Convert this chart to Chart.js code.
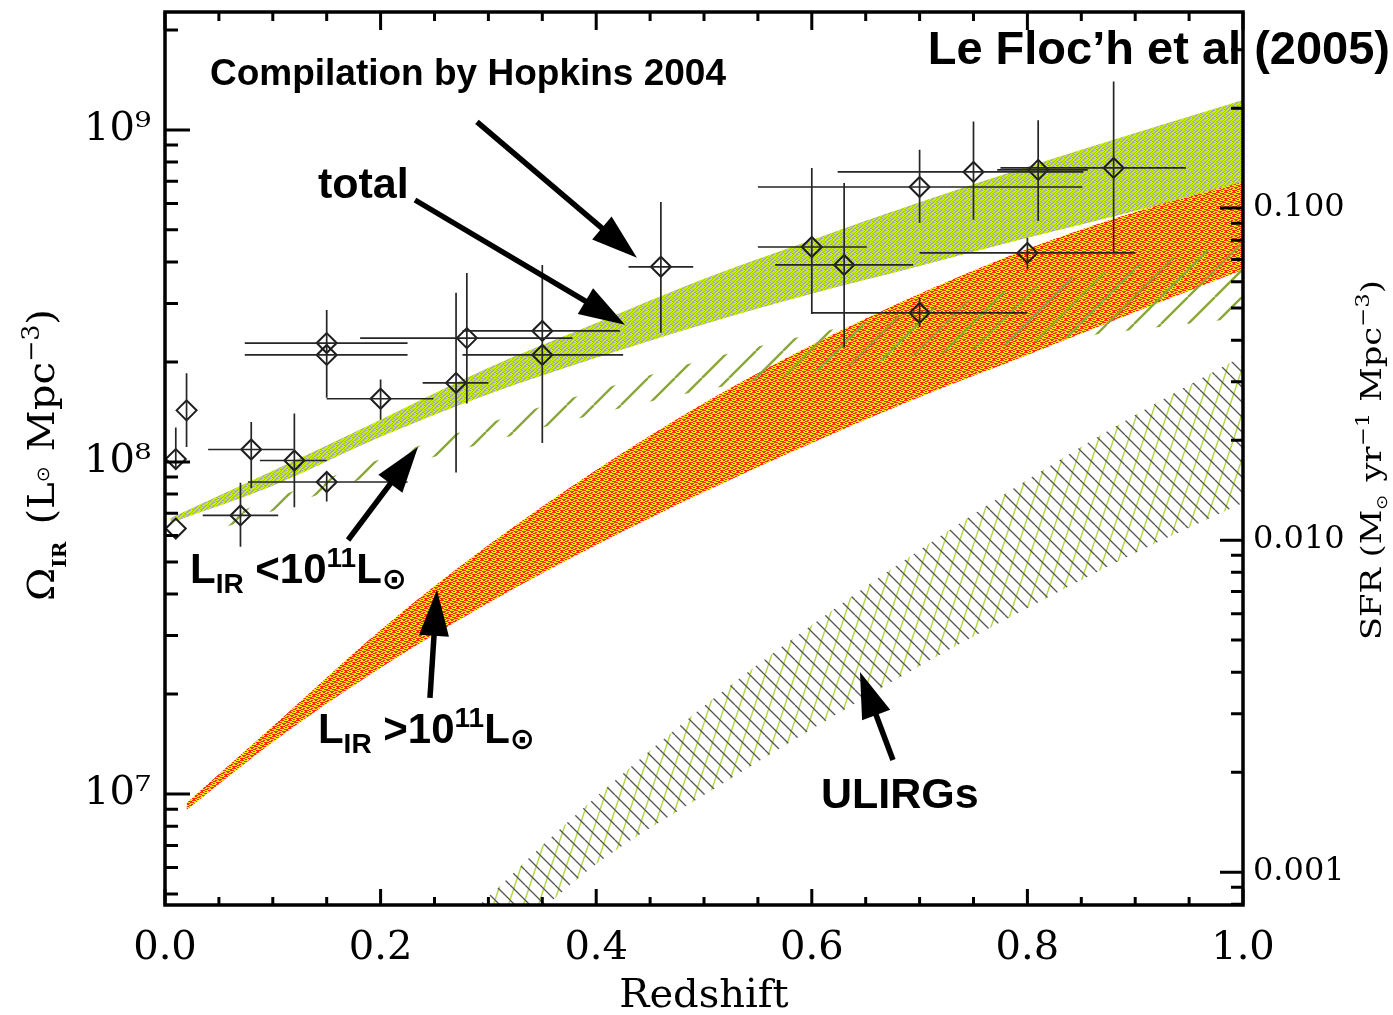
<!DOCTYPE html>
<html>
<head>
<meta charset="utf-8">
<script src="https://cdn.jsdelivr.net/npm/chart.js@4.4.1/dist/chart.umd.min.js"></script>
<style>
  html, body { margin: 0; padding: 0; background: #ffffff; }
  canvas { display: block; }
</style>
</head>
<body>
<canvas id="chart" width="1393" height="1015"></canvas>
<script>
// ---- Model bands: comoving IR luminosity density (Lsun Mpc^-3) vs redshift ----
// Total IR luminosity density
const totalZ     = [0.005, 0.1, 0.2, 0.3, 0.4, 0.5, 0.6, 0.7, 0.8, 0.9, 1.0];
const totalUpper = [6.78e7, 9.40e7, 1.34e8, 1.92e8, 2.62e8, 3.56e8, 4.66e8, 6.05e8, 7.74e8, 9.79e8, 1.23e9];
const totalLower = [6.55e7, 8.47e7, 1.19e8, 1.60e8, 2.06e8, 2.60e8, 3.21e8, 3.89e8, 4.73e8, 5.70e8, 6.88e8];

// Contribution of galaxies with L_IR > 10^11 Lsun
const lirgZ     = [0.02, 0.1, 0.2, 0.3, 0.4, 0.5, 0.6, 0.7, 0.8, 0.9, 1.0];
const lirgUpper = [9.40e6, 1.60e7, 3.12e7, 5.62e7, 9.46e7, 1.505e8, 2.25e8, 3.21e8, 4.38e8, 5.66e8, 6.97e8];
const lirgLower = [8.95e6, 1.434e7, 2.40e7, 3.76e7, 5.62e7, 8.12e7, 1.141e8, 1.57e8, 2.10e8, 2.83e8, 3.79e8];

// Contribution of galaxies with L_IR < 10^11 Lsun
const normalZ     = [0.04, 0.1, 0.2, 0.3, 0.4, 0.5, 0.6, 0.7, 0.8, 0.9, 1.0];
const normalUpper = [6.51e7, 7.74e7, 1.021e8, 1.311e8, 1.637e8, 2.03e8, 2.43e8, 2.85e8, 3.37e8, 3.92e8, 4.57e8];
const normalLower = [6.11e7, 7.12e7, 9.27e7, 1.149e8, 1.395e8, 1.648e8, 1.867e8, 2.09e8, 2.28e8, 2.50e8, 2.72e8];

// Contribution of ULIRGs (L_IR > 10^12 Lsun)
const ulirgZ     = [0.28, 0.3, 0.35, 0.4, 0.5, 0.6, 0.7, 0.8, 0.9, 1.0];
const ulirgUpper = [4.3e6, 4.9e6, 7.0e6, 9.8e6, 1.842e7, 3.23e7, 5.43e7, 8.83e7, 1.385e8, 2.09e8];
const ulirgLower = [2.85e6, 3.27e6, 4.50e6, 6.15e6, 9.93e6, 1.57e7, 2.43e7, 3.63e7, 5.32e7, 7.52e7];

// ---- Compilation by Hopkins (2004) ----
const pointZ        = [0.01, 0.01, 0.02, 0.07, 0.08, 0.12, 0.15, 0.15, 0.15, 0.20, 0.27, 0.28, 0.35, 0.35, 0.46, 0.60, 0.63, 0.70, 0.70, 0.75, 0.81, 0.88, 0.80];
const pointOmega    = [6.3e7, 1.02e8, 1.43e8, 6.9e7, 1.09e8, 1.01e8, 8.7e7, 2.28e8, 2.10e8, 1.55e8, 1.73e8, 2.36e8, 2.48e8, 2.10e8, 3.87e8, 4.44e8, 3.92e8, 2.81e8, 6.73e8, 7.47e8, 7.58e8, 7.68e8, 4.26e8];
const pointZLow     = [null, null, null, 0.035, 0.040, 0.088, 0.077, 0.074, 0.074, 0.150, 0.239, 0.181, 0.276, 0.276, 0.430, 0.550, 0.566, 0.600, 0.550, 0.624, 0.772, 0.775, 0.700];
const pointZHigh    = [null, null, null, 0.105, 0.119, 0.150, 0.225, 0.225, 0.225, 0.249, 0.300, 0.378, 0.422, 0.425, 0.490, 0.651, 0.694, 0.800, 0.851, 0.852, 0.856, 0.947, 0.900];
const pointOmegaLow = [null, 9.5e7, 1.11e8, 5.55e7, 8.35e7, 7.3e7, 7.6e7, 2.10e8, 1.56e8, 1.34e8, 9.3e7, 1.50e8, 2.10e8, 1.14e8, 2.45e8, 2.79e8, 2.22e8, 2.55e8, 5.25e8, 5.36e8, 5.32e8, 4.26e8, 3.79e8];
const pointOmegaHigh= [null, 1.27e8, 1.85e8, 8.65e7, 1.32e8, 1.40e8, 9.3e7, 2.87e8, 2.28e8, 1.77e8, 3.23e8, 3.71e8, 3.92e8, 2.48e8, 6.07e8, 7.68e8, 6.92e8, 3.12e8, 8.71e8, 1.06e9, 1.07e9, 1.40e9, 4.73e8];

// ---- Axes ----
const xTickStep = 0.2;
const omegaTicks = [1e7, 1e8, 1e9];
const omegaTickLabels = ['10\u2077', '10\u2078', '10\u2079'];
const sfrTicks = [0.001, 0.01, 0.1];
const sfrTickLabels = ['0.001', '0.010', '0.100'];
const OMEGA_MIN = 4.63e6, OMEGA_MAX = 2.265e9;
const SFR_PER_LIR = 1.72e-10;   // Msun/yr per Lsun (Kennicutt 1998)

// ---- Fill textures ----
function bitmapPattern(rows, colors) {
  const c = document.createElement('canvas');
  c.width = rows[0].length; c.height = rows.length;
  const g = c.getContext('2d');
  rows.forEach((row, y) => {
    for (let x = 0; x < row.length; x++) {
      g.fillStyle = colors[row[x]];
      g.fillRect(x, y, 1, 1);
    }
  });
  return g.createPattern(c, 'repeat');
}
function hatchPattern(w, h, sets) {
  const c = document.createElement('canvas');
  c.width = w; c.height = h;
  const g = c.getContext('2d');
  sets.forEach(s => {
    g.strokeStyle = s.color; g.lineWidth = s.width;
    g.beginPath();
    s.segments.forEach(([x0, y0, x1, y1]) => { g.moveTo(x0, y0); g.lineTo(x1, y1); });
    g.stroke();
  });
  return g.createPattern(c, 'repeat');
}

const greenFill = bitmapPattern([
  '00110001', '11000110', '01101100', '10011001',
  '00110011', '11100100', '01001110', '10011000'
], { '0': '#c4f200', '1': '#a9a9a9' });

const orangeFill = bitmapPattern([
  '00001111', '11110000', '00111100', '11000011',
  '01100110', '11111000', '00000111', '10011001'
], { '0': '#ff2a00', '1': '#ffea00' });

const normalHatch = (() => {
  const s = 27, segs = [];
  for (let k = -1; k <= 1; k++) segs.push([k * s, s, k * s + s, 0]);
  return hatchPattern(s, s, [{ color: '#8aa83a', width: 2.4, segments: segs }]);
})();

const ulirgHatch = (() => {
  const w = 15, h = 45, back = [], steep = [];
  for (let c = -w; c <= h; c += w) back.push([0, c, w, c + w]);
  for (let k = -1; k <= 1; k++) steep.push([k * w, h, k * w + w, 0]);
  return hatchPattern(w, h, [
    { color: '#b0d840', width: 1.4, segments: steep },
    { color: '#555555', width: 1.3, segments: back }
  ]);
})();

// ---- Datasets ----
const xy = (zs, vs) => zs.map((z, i) => ({ x: z, y: vs[i] }));
function band(label, zs, lower, upper, fill, order) {
  const common = { borderWidth: 0, borderColor: 'rgba(0,0,0,0)', pointRadius: 0,
                   cubicInterpolationMode: 'monotone', order };
  return [
    Object.assign({ label: label + ' (lower)', data: xy(zs, lower), fill: false }, common),
    Object.assign({ label: label, data: xy(zs, upper), fill: '-1', backgroundColor: fill }, common)
  ];
}

const datasets = [
  ...band('total', totalZ, totalLower, totalUpper, greenFill, 4),
  ...band('L_IR > 1e11', lirgZ, lirgLower, lirgUpper, orangeFill, 3),
  ...band('L_IR < 1e11', normalZ, normalLower, normalUpper, normalHatch, 2),
  ...band('ULIRGs', ulirgZ, ulirgLower, ulirgUpper, ulirgHatch, 1),
  {
    label: 'Hopkins 2004', data: xy(pointZ, pointOmega), showLine: false, order: 0,
    pointStyle: 'rectRot', pointRadius: 10, pointBorderWidth: 2,
    pointBorderColor: '#1c1c1c', pointBackgroundColor: 'rgba(0,0,0,0)'
  }
];

// ---- Annotation layout (data coordinates) ----
const arrows = [
  { from: [0.2894, 1.057e9], to: [0.4378, 4.12e8] },   // Hopkins compilation
  { from: [0.2319, 6.15e8],  to: [0.4267, 2.59e8] },   // total
  { from: [0.1698, 5.82e7],  to: [0.2347, 1.11e8] },   // L_IR < 1e11
  { from: [0.2458, 1.947e7], to: [0.2523, 4.12e7] },   // L_IR > 1e11
  { from: [0.6753, 1.266e7], to: [0.6447, 2.33e7] }    // ULIRGs
];

const SANS = '"Liberation Sans", Arial, Helvetica, sans-serif';
const SERIF = '"DejaVu Serif", serif';
const SYM = '"DejaVu Sans", sans-serif';

function drawRich(ctx, x, y, parts) {
  let cx = x;
  parts.forEach(p => {
    ctx.font = p.font;
    ctx.fillText(p.t, cx, y + (p.dy || 0));
    cx += ctx.measureText(p.t).width + (p.gap || 0);
  });
}
function richWidth(ctx, parts) {
  let w = 0;
  parts.forEach(p => { ctx.font = p.font; w += ctx.measureText(p.t).width + (p.gap || 0); });
  return w;
}
function lumLabel(sign) {
  return [
    { t: 'L', font: `bold 42px ${SANS}` },
    { t: 'IR', font: `bold 28px ${SANS}`, dy: 10 },
    { t: ' ' + sign + '10', font: `bold 42px ${SANS}` },
    { t: '11', font: `bold 28px ${SANS}`, dy: -16 },
    { t: 'L', font: `bold 42px ${SANS}` },
    { t: '\u2299', font: `bold 30px ${SYM}`, dy: 6 }
  ];
}
const textLabels = [
  { at: [0.0417, 1.366e9], parts: [{ t: 'Compilation by Hopkins 2004', font: `bold 37px ${SANS}` }] },
  { at: [0.1419, 6.24e8],  parts: [{ t: 'total', font: `bold 43px ${SANS}` }] },
  { at: [0.0232, 4.32e7],  parts: lumLabel('<') },
  { at: [0.1419, 1.424e7], parts: lumLabel('>') },
  { at: [0.6085, 9.08e6],  parts: [{ t: 'ULIRGs', font: `bold 43px ${SANS}` }] }
];

// ---- Plugins ----
const errorBars = {
  id: 'errorBars',
  afterDatasetsDraw(chart) {
    const { ctx, chartArea: a, scales: { x, y } } = chart;
    ctx.save();
    ctx.beginPath(); ctx.rect(a.left, a.top, a.width, a.height); ctx.clip();
    ctx.strokeStyle = '#262626'; ctx.lineWidth = 1.7;
    ctx.beginPath();
    pointZ.forEach((z, i) => {
      const px = x.getPixelForValue(z), py = y.getPixelForValue(pointOmega[i]);
      if (pointZLow[i] !== null) {
        ctx.moveTo(x.getPixelForValue(pointZLow[i]), py);
        ctx.lineTo(x.getPixelForValue(pointZHigh[i]), py);
      }
      if (pointOmegaLow[i] !== null) {
        ctx.moveTo(px, y.getPixelForValue(pointOmegaLow[i]));
        ctx.lineTo(px, y.getPixelForValue(pointOmegaHigh[i]));
      }
    });
    ctx.stroke();
    ctx.restore();
  }
};

const frame = {
  id: 'frame',
  afterDraw(chart) {
    const { ctx, chartArea: a, scales: { x, y, y2 } } = chart;
    ctx.save();
    ctx.strokeStyle = '#000'; ctx.lineCap = 'butt';
    ctx.lineWidth = 3;
    ctx.beginPath();
    for (let i = 0; i <= 20; i++) {
      const px = x.getPixelForValue(i * 0.05), major = i % 4 === 0;
      ctx.moveTo(px, a.bottom); ctx.lineTo(px, a.bottom - (major ? 16 : 8));
      ctx.moveTo(px, a.top); ctx.lineTo(px, a.top + (major ? 18 : 9));
    }
    for (let n = 6; n <= 9; n++) for (let k = 1; k <= 9; k++) {
      const v = k * Math.pow(10, n);
      if (v < OMEGA_MIN || v > OMEGA_MAX) continue;
      const py = y.getPixelForValue(v);
      ctx.moveTo(a.left, py); ctx.lineTo(a.left + (k === 1 ? 25 : 13), py);
    }
    for (let n = -4; n <= -1; n++) for (let k = 1; k <= 9; k++) {
      const v = k * Math.pow(10, n);
      if (v < y2.min || v > y2.max) continue;
      const py = y2.getPixelForValue(v);
      ctx.moveTo(a.right, py); ctx.lineTo(a.right - (k === 1 ? 23 : 12), py);
    }
    ctx.stroke();
    ctx.lineWidth = 3.5;
    ctx.strokeRect(a.left, a.top, a.width, a.height);

    // arrows
    ctx.fillStyle = '#000'; ctx.strokeStyle = '#000'; ctx.lineWidth = 5.5;
    arrows.forEach(ar => {
      const x0 = x.getPixelForValue(ar.from[0]), y0 = y.getPixelForValue(ar.from[1]);
      const x1 = x.getPixelForValue(ar.to[0]),   y1 = y.getPixelForValue(ar.to[1]);
      const ang = Math.atan2(y1 - y0, x1 - x0), L = 46, hw = 15;
      const bx = x1 - L * Math.cos(ang), by = y1 - L * Math.sin(ang);
      ctx.beginPath(); ctx.moveTo(x0, y0); ctx.lineTo(bx + 2 * Math.cos(ang), by + 2 * Math.sin(ang)); ctx.stroke();
      ctx.beginPath();
      ctx.moveTo(x1, y1);
      ctx.lineTo(bx + hw * Math.sin(ang), by - hw * Math.cos(ang));
      ctx.lineTo(bx - hw * Math.sin(ang), by + hw * Math.cos(ang));
      ctx.closePath(); ctx.fill();
    });

    // annotation text
    ctx.textBaseline = 'alphabetic'; ctx.textAlign = 'left';
    textLabels.forEach(l => drawRich(ctx, x.getPixelForValue(l.at[0]), y.getPixelForValue(l.at[1]), l.parts));
    const credit = [{ t: 'Le Floc\u2019h et al (2005)', font: `bold 47px ${SANS}` }];
    drawRich(ctx, chart.width - 3 - richWidth(ctx, credit), 64, credit);

    // rotated axis titles
    const leftTitle = [
      { t: '\u03A9', font: `38px ${SERIF}` },
      { t: 'IR', font: `bold 19px ${SERIF}`, dy: 12, gap: 4 },
      { t: ' (L', font: `38px ${SERIF}` },
      { t: '\u2299', font: `18px ${SYM}`, dy: -5, gap: 2 },
      { t: ' Mpc', font: `38px ${SERIF}` },
      { t: '\u22123', font: `24px ${SERIF}`, dy: -15 },
      { t: ')', font: `38px ${SERIF}` }
    ];
    const rightTitle = [
      { t: 'SFR (M', font: `28px ${SERIF}` },
      { t: '\u2299', font: `15px ${SYM}`, dy: 6, gap: 2 },
      { t: ' yr', font: `28px ${SERIF}` },
      { t: '\u22121', font: `19px ${SERIF}`, dy: -12 },
      { t: ' Mpc', font: `28px ${SERIF}` },
      { t: '\u22123', font: `19px ${SERIF}`, dy: -12 },
      { t: ')', font: `28px ${SERIF}` }
    ];
    const drawVertical = (parts, baseX, centerY, length) => {
      const w = richWidth(ctx, parts), s = length / w;
      ctx.save();
      ctx.translate(baseX, centerY);
      ctx.rotate(-Math.PI / 2);
      ctx.scale(s, 1);
      drawRich(ctx, -w / 2, 0, parts);
      ctx.restore();
    };
    drawVertical(leftTitle, 54, 455, 292);
    drawVertical(rightTitle, 1381, 460, 360);
    ctx.restore();
  }
};

// Pin the plot box: no extra room reserved for overhanging tick labels
const noOverhangV = w => s => { s.width = w; s.paddingTop = 0; s.paddingBottom = 0; };
const noOverhangH = h => s => { s.height = h; s.paddingLeft = 0; s.paddingRight = 0; };

Chart.defaults.color = '#000';
new Chart(document.getElementById('chart'), {
  type: 'line',
  data: { datasets },
  plugins: [errorBars, frame],
  options: {
    responsive: false,
    devicePixelRatio: 1,
    animation: false,
    layout: { padding: { top: 12, left: 0, right: 0, bottom: 0 } },
    plugins: { legend: { display: false }, tooltip: { enabled: false } },
    scales: {
      x: {
        type: 'linear', position: 'bottom', min: 0, max: 1,
        grid: { display: false, drawTicks: false }, border: { display: false },
        ticks: { stepSize: xTickStep, padding: 20, font: { family: SERIF, size: 40 },
                 callback: v => v.toFixed(1) },
        title: { display: true, text: 'Redshift', font: { family: SERIF, size: 40, lineHeight: 0.9 },
                 padding: { top: 0, bottom: 0 } },
        afterFit: noOverhangH(110)
      },
      y: {
        type: 'logarithmic', position: 'left', min: OMEGA_MIN, max: OMEGA_MAX,
        grid: { display: false, drawTicks: false }, border: { display: false },
        afterBuildTicks: s => { s.ticks = omegaTicks.map(v => ({ value: v })); },
        ticks: { padding: 14, font: { family: SERIF, size: 40 },
                 callback: (v, i) => omegaTickLabels[i] },
        afterFit: noOverhangV(165)
      },
      y2: {
        type: 'logarithmic', position: 'right',
        min: OMEGA_MIN * SFR_PER_LIR, max: OMEGA_MAX * SFR_PER_LIR,
        grid: { display: false, drawTicks: false }, border: { display: false },
        afterBuildTicks: s => { s.ticks = sfrTicks.map(v => ({ value: v })); },
        ticks: { padding: 10, font: { family: SERIF, size: 32 },
                 callback: (v, i) => sfrTickLabels[i] },
        afterFit: noOverhangV(150)
      }
    }
  }
});
</script>
</body>
</html>
